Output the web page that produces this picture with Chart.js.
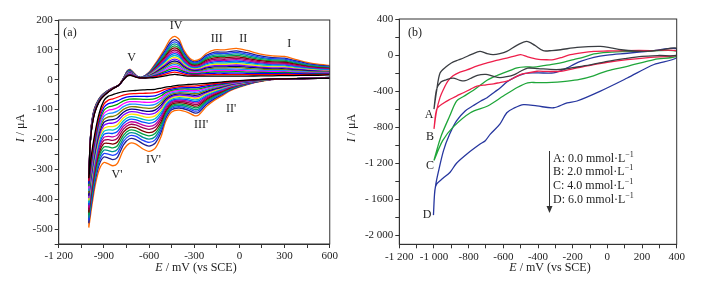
<!DOCTYPE html>
<html>
<head>
<meta charset="utf-8">
<script src="https://cdn.jsdelivr.net/npm/chart.js@4.4.0/dist/chart.umd.min.js"></script>
<style>
    body { margin: 0; background: #fff; }
    #wrap { position: relative; width: 703px; height: 281px; background: #fff; }
    canvas { position: absolute; top: 0; }
    #ca { left: 0; }
    #cb { left: 340px; }
</style>
</head>
<body>
<div id="wrap">
    <canvas id="ca" width="340" height="281" style="width:340px;height:281px"></canvas>
    <canvas id="cb" width="363" height="281" style="width:363px;height:281px"></canvas>
</div>
<script>
/* (a) 연속 CV 사이클, (b) 농도별 CV */

// ---- panel (a): outermost (last) and innermost (first) cycle ----
const eDown = [600, 450, 300, 200, 100, 0, -60, -120, -170, -220, -270, -300, -340, -400, -450, -490, -520, -560, -600, -640, -690, -730, -770, -810, -840, -870, -900, -930, -960, -985, -1000];
const outerDown = [8, 5, 3, 0, -10, -25, -37, -55, -70, -90, -118, -120, -110, -102, -108, -140, -190, -230, -240, -232, -215, -213, -235, -280, -288, -282, -277, -300, -360, -440, -495];
const innerDown = [5, 4, 3, 2, 0, -3, -5, -8, -10, -12, -14, -15, -16, -18, -22, -25, -28, -32, -33, -34, -36, -37, -40, -45, -50, -55, -70, -110, -180, -260, -330];

const eUp = [-1000, -997, -993, -985, -970, -950, -920, -880, -840, -800, -770, -745, -725, -705, -680, -650, -600, -550, -500, -460, -430, -400, -370, -330, -300, -260, -220, -165, -100, -20, 50, 140, 220, 300, 360, 450, 520, 600];
const outerUp = [-495, -350, -250, -160, -110, -80, -55, -38, -27, -18, 5, 30, 35, 25, 12, 8, 25, 60, 100, 135, 145, 135, 100, 72, 64, 70, 88, 100, 100, 105, 98, 86, 80, 78, 70, 58, 52, 48];
const innerUp = [-330, -280, -230, -180, -130, -95, -65, -45, -30, -18, 0, 12, 15, 12, 8, 6, 6, 8, 12, 16, 18, 16, 14, 12, 12, 12, 12, 12, 12, 12, 12, 13, 13, 14, 14, 15, 15, 16];

// IV' peak current of each cycle (first -> last)
const ivPeak = [-33, -45, -56, -66, -76, -86, -96, -106, -116, -126, -136, -146, -156, -166, -177, -188, -199, -210, -222, -240];
const cycleColors = ['#000000', '#ff0000', '#0000ff', '#00a000', '#ff00ff', '#1e90ff', '#808000', '#000080', '#8000ff', '#ffe000',
    '#00c0c0', '#0050ff', '#c000a0', '#a00050', '#800000', '#00a040', '#009090', '#2040ff', '#202090', '#ff6a00'];

// ---- panel (b): A..D ----
const aUpE = [-1000, -985, -965, -930, -900, -860, -830, -780, -735, -700, -660, -620, -580, -520, -465, -420, -370, -320, -270, -175, -40, 20, 80, 210, 300, 400];
const aUpI = [-600, -400, -200, -130, -88, -55, -33, 10, 41, 20, 4, 15, 41, 110, 151, 110, 48, 50, 59, 85, 96, 80, 59, 41, 55, 77];
const aDownE = [400, 300, 200, 100, 0, -100, -200, -270, -330, -400, -460, -500, -540, -580, -620, -660, -700, -750, -790, -820, -850, -890, -930, -960, -985, -1000];
const aDownI = [0, -5, -15, -40, -70, -110, -140, -160, -160, -150, -145, -180, -220, -240, -250, -235, -215, -225, -260, -285, -280, -255, -275, -300, -380, -600];

const bUpE = [-1000, -985, -965, -945, -920, -890, -850, -810, -750, -694, -640, -580, -530, -500, -460, -406, -350, -310, -260, -213, -150, -78, 0, 115, 250, 400];
const bUpI = [-820, -620, -470, -380, -290, -230, -190, -165, -120, -88, -60, -33, -10, 4, -20, -45, -52, -50, -25, 4, 25, 41, 45, 50, 50, 48];
const bDownE = [400, 250, 115, 0, -78, -175, -271, -350, -406, -460, -502, -540, -579, -620, -656, -700, -752, -790, -830, -870, -907, -950, -984, -1000];
const bDownI = [-3, -25, -51, -80, -106, -143, -180, -182, -180, -200, -216, -255, -290, -305, -319, -330, -345, -380, -418, -455, -491, -540, -600, -820];

const cUpE = [-1000, -980, -955, -910, -870, -830, -772, -730, -694, -640, -598, -560, -521, -470, -425, -370, -310, -250, -194, -136, -78, 0, 115, 250, 400];
const cUpI = [-1170, -1030, -880, -680, -510, -460, -390, -330, -280, -230, -198, -170, -142, -132, -133, -118, -100, -78, -50, -22, 12, 30, 41, 45, 45];
const cDownE = [400, 270, 115, 0, -80, -160, -230, -290, -350, -410, -460, -520, -600, -690, -790, -890, -950, -1000];
const cDownI = [-15, -50, -125, -175, -230, -270, -290, -300, -305, -305, -308, -360, -455, -565, -640, -800, -950, -1170];

const dUpE = [-1003, -997, -990, -975, -945, -910, -870, -820, -772, -730, -694, -650, -617, -580, -540, -500, -464, -400, -310, -270, -232, -190, -155, -78, 0, 115, 250, 400];
const dUpI = [-1776, -1550, -1440, -1300, -1060, -880, -730, -620, -560, -510, -473, -410, -363, -300, -253, -220, -200, -198, -198, -175, -143, -100, -70, -25, 0, 20, 45, 70];
const dDownE = [400, 269, 115, -40, -175, -232, -310, -406, -483, -540, -580, -620, -675, -704, -734, -810, -870, -907, -950, -984, -995, -1003];
const dDownI = [-30, -105, -255, -400, -510, -530, -585, -565, -550, -590, -640, -767, -877, -950, -987, -1097, -1200, -1300, -1370, -1430, -1500, -1776];

// tick marks (major + minor) and their labels
const xTickPosA = [-1200, -1050, -900, -750, -600, -450, -300, -150, 0, 150, 300, 450, 600];
const yTickPosA = [-550, -500, -450, -400, -350, -300, -250, -200, -150, -100, -50, 0, 50, 100, 150, 200];
const xTickPosB = [-1200, -1100, -1000, -900, -800, -700, -600, -500, -400, -300, -200, -100, 0, 100, 200, 300, 400];
const yTickPosB = [-2000, -1800, -1600, -1400, -1200, -1000, -800, -600, -400, -200, 0, 200, 400];
const xTicksA = {'-1200': '-1 200', '-900': '-900', '-600': '-600', '-300': '-300', '0': '0', '300': '300', '600': '600'};
const yTicksA = {'200': '200', '100': '100', '0': '0', '-100': '-100', '-200': '-200', '-300': '-300', '-400': '-400', '-500': '-500'};
const xTicksB = {'-1200': '-1 200', '-1000': '-1 000', '-800': '-800', '-600': '-600', '-400': '-400', '-200': '-200', '0': '0', '200': '200', '400': '400'};
const yTicksB = {'400': '400', '0': '0', '-400': '-400', '-800': '-800', '-1200': '-1 200', '-1600': '- 1600', '-2000': '-2 000'};

const SERIF = "'Liberation Serif', 'DejaVu Serif', serif";
const INK = '#222';

function pts(es, is) {
    return es.map((e, i) => ({x: e, y: is[i]}));
}

function loop(e1, i1, e2, i2) {
    return pts(e1, i1).concat(pts(e2, i2));
}

function axis(min, max, positions, labels, size, isX) {
    return {
        type: 'linear', min: min, max: max,
        afterFit: s => { if (isX) s.height = size; else s.width = size; },
        afterBuildTicks: s => { s.ticks = positions.map(v => ({value: v})); },
        ticks: {
            autoSkip: false, maxRotation: 0, padding: 2,
            color: INK, font: {family: SERIF, size: 11},
            callback: v => labels[String(v)] || ''
        },
        grid: {drawOnChartArea: false, drawTicks: true, tickLength: 4, color: '#333'},
        border: {color: '#333', width: 1}
    };
}

// mixed-font text: parts = [[text, font, dy]]
function drawParts(ctx, parts, x, y, align) {
    let total = 0;
    parts.forEach(p => { ctx.font = p[1]; total += ctx.measureText(p[0]).width; });
    let cx = align === 'center' ? x - total / 2 : x;
    ctx.textAlign = 'left';
    ctx.textBaseline = 'middle';
    parts.forEach(p => {
        ctx.font = p[1];
        ctx.fillText(p[0], cx, y + (p[2] || 0));
        cx += ctx.measureText(p[0]).width;
    });
}

const framePlugin = {
    id: 'frame',
    afterDraw(chart) {
        const a = chart.chartArea, ctx = chart.ctx;
        ctx.save();
        ctx.strokeStyle = '#333';
        ctx.lineWidth = 1;
        ctx.strokeRect(a.left, a.top, a.right - a.left, a.bottom - a.top);
        ctx.restore();
    }
};

function textPlugin(items, yTitle, xTitle) {
    return {
        id: 'texts',
        afterDraw(chart) {
            const ctx = chart.ctx;
            ctx.save();
            ctx.fillStyle = INK;
            items.forEach(t => drawParts(ctx, [[t[0], '12px ' + SERIF]], t[1], t[2], 'center'));
            drawParts(ctx, [['E', 'italic 12px ' + SERIF], [' / mV (vs SCE)', '12px ' + SERIF]], xTitle[0], xTitle[1], 'center');
            ctx.translate(yTitle[0], yTitle[1]);
            ctx.rotate(-Math.PI / 2);
            drawParts(ctx, [['I', 'italic 12px ' + SERIF], [' / \u03bcA', '12px ' + SERIF]], 0, 0, 'center');
            ctx.restore();
        }
    };
}

const legendPlugin = {
    id: 'concLegend',
    afterDraw(chart) {
        const ctx = chart.ctx;
        ctx.save();
        ctx.strokeStyle = '#333';
        ctx.fillStyle = '#333';
        ctx.lineWidth = 1;
        ctx.beginPath();
        ctx.moveTo(209.5, 151);
        ctx.lineTo(209.5, 210);
        ctx.stroke();
        ctx.beginPath();
        ctx.moveTo(206.5, 206);
        ctx.lineTo(212.5, 206);
        ctx.lineTo(209.5, 213);
        ctx.closePath();
        ctx.fill();
        ctx.fillStyle = INK;
        const rows = ['A: 0.0 mmol\u00b7L', 'B: 2.0 mmol\u00b7L', 'C: 4.0 mmol\u00b7L', 'D: 6.0 mmol\u00b7L'];
        const ys = [158.5, 172.3, 186, 200];
        rows.forEach((r, i) => drawParts(ctx, [[r, '12px ' + SERIF], ['\u2212', '8px ' + SERIF, -4], ['1', '8px ' + SERIF, -4]], 213, ys[i], 'left'));
        ctx.restore();
    }
};

function renderCycles() {
    const span = ivPeak[ivPeak.length - 1] - ivPeak[0];
    const datasets = ivPeak.map((p, k) => {
        const f = (p - ivPeak[0]) / span;
        const down = innerDown.map((v, i) => v + f * (outerDown[i] - v));
        const up = innerUp.map((v, i) => v + f * (outerUp[i] - v));
        return {
            data: loop(eDown, down, eUp, up),
            showLine: true, borderColor: cycleColors[k], borderWidth: 1.3,
            pointRadius: 0, tension: 0.25, fill: false
        };
    });

    new Chart(document.getElementById('ca'), {
        type: 'scatter',
        data: {datasets: datasets},
        options: {
            responsive: false, animation: false,
            layout: {padding: {left: 0, right: 7, top: 20, bottom: 0}},
            scales: {
                x: axis(-1200, 600, xTickPosA, xTicksA, 37, true),
                y: axis(-550, 200, yTickPosA, yTicksA, 58.7, false)
            },
            plugins: {legend: {display: false}, tooltip: {enabled: false}}
        },
        plugins: [framePlugin, textPlugin([
            ['(a)', 70, 33], ['V', 131.5, 58], ['IV', 176, 26], ['III', 216.7, 38.5], ['II', 243.3, 38.5], ['I', 289.3, 43.5],
            ["II'", 231, 108.5], ["III'", 201, 125], ["IV'", 153.5, 160], ["V'", 117, 175]
        ], [21, 128], [196, 268])]
    });
}

function renderConc() {
    const curves = [
        [aUpE, aUpI, aDownE, aDownI, '#3a3d42'],
        [bUpE, bUpI, bDownE, bDownI, '#ee1f4b'],
        [cUpE, cUpI, cDownE, cDownI, '#1fa63a'],
        [dUpE, dUpI, dDownE, dDownI, '#27379f']
    ];
    new Chart(document.getElementById('cb'), {
        type: 'scatter',
        data: {
            datasets: curves.map(c => ({
                data: loop(c[0], c[1], c[2], c[3]),
                showLine: true, borderColor: c[4], borderWidth: 1.3,
                pointRadius: 0, tension: 0.3, fill: false
            }))
        },
        options: {
            responsive: false, animation: false,
            layout: {padding: {left: 0, right: 26.3, top: 19, bottom: 0}},
            scales: {
                x: axis(-1200, 400, xTickPosB, xTicksB, 36.7, true),
                y: axis(-2100, 400, yTickPosB, yTicksB, 59.3, false)
            },
            plugins: {legend: {display: false}, tooltip: {enabled: false}}
        },
        plugins: [framePlugin, legendPlugin, textPlugin([
            ['(b)', 75, 33], ['A', 89, 115], ['B', 90, 137], ['C', 90, 166], ['D', 87, 215]
        ], [12, 128], [210, 268])]
    });
}

renderCycles();
renderConc();
</script>
</body>
</html>
